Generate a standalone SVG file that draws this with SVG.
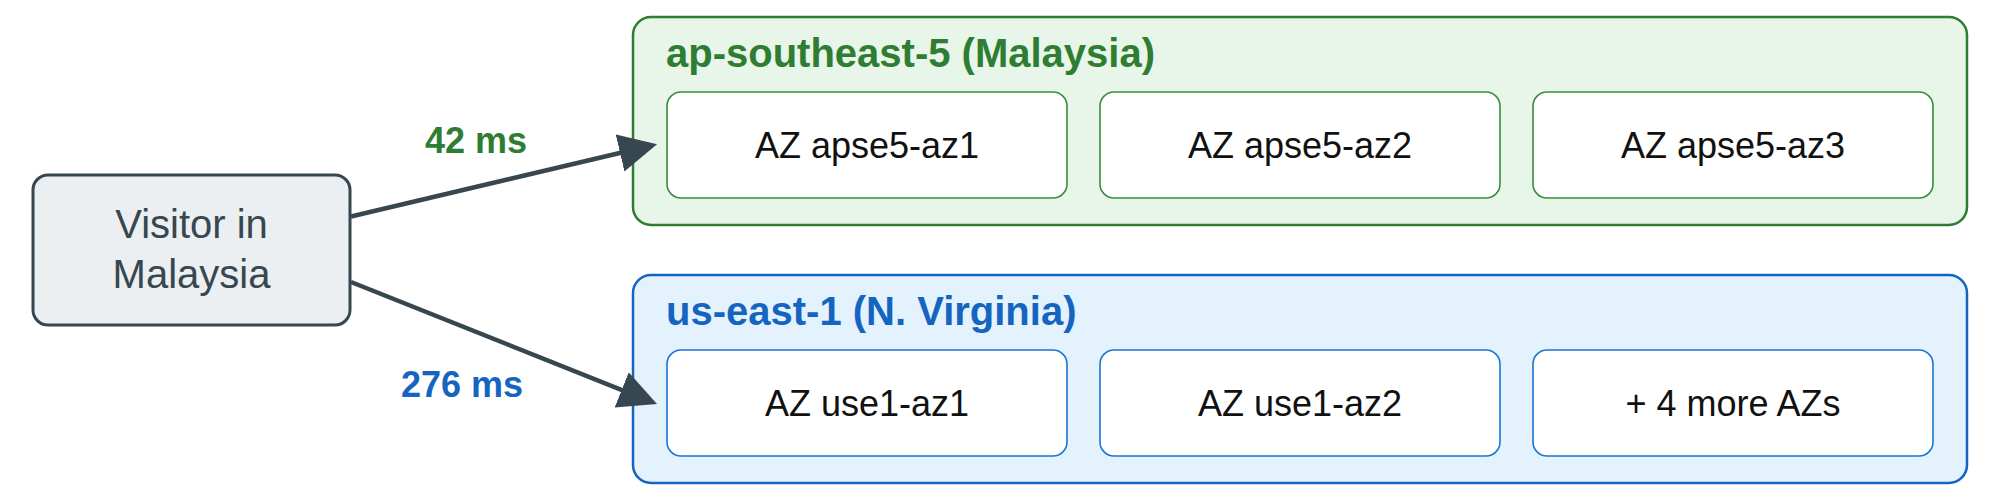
<svg xmlns="http://www.w3.org/2000/svg" width="2000" height="500" viewBox="0 0 2000 500">
  <style>
    .txt { font-family: "Liberation Sans", Arial, Helvetica, sans-serif; }
    .visitor rect { fill: #eceff1; stroke: #37474f; stroke-width: 3; }
    .visitor text { fill: #37474f; font-size: 40px; text-anchor: middle; }
    .region-green > rect { fill: #e8f5e9; stroke: #2e7d32; stroke-width: 2.5; }
    .region-blue > rect { fill: #e3f2fd; stroke: #1565c0; stroke-width: 2.5; }
    .title { font-size: 40px; font-weight: bold; }
    .region-green .title { fill: #2e7d32; }
    .region-blue .title { fill: #1565c0; }
    .az rect { fill: #ffffff; stroke-width: 1.6; }
    .region-green .az rect { stroke: #388e3c; }
    .region-blue .az rect { stroke: #1976d2; }
    .az text { font-size: 36px; fill: #111111; text-anchor: middle; }
    .edge { fill: none; stroke: #37474f; stroke-width: 4.5; }
    .lbl { font-size: 36px; font-weight: bold; text-anchor: middle; }
  </style>
  <defs>
    <marker id="arrow" markerUnits="userSpaceOnUse" markerWidth="40" markerHeight="40" refX="28" refY="19" orient="auto">
      <path d="M0,0 L38,19 L0,38 Z" fill="#37474f"/>
    </marker>
  </defs>

  <g id="visitor" class="visitor txt">
    <rect x="33" y="175" width="317" height="150" rx="15" ry="15"/>
    <text x="191.5" y="238">Visitor in</text>
    <text x="191.5" y="288">Malaysia</text>
  </g>

  <g id="region-apse5" class="region-green txt">
    <rect x="633" y="17" width="1334" height="208" rx="18" ry="18"/>
    <text class="title" x="666" y="67">ap-southeast-5 (Malaysia)</text>
    <g id="az-apse5-az1" class="az">
      <rect x="667" y="92" width="400" height="106" rx="14" ry="14"/>
      <text x="867" y="158">AZ apse5-az1</text>
    </g>
    <g id="az-apse5-az2" class="az">
      <rect x="1100" y="92" width="400" height="106" rx="14" ry="14"/>
      <text x="1300" y="158">AZ apse5-az2</text>
    </g>
    <g id="az-apse5-az3" class="az">
      <rect x="1533" y="92" width="400" height="106" rx="14" ry="14"/>
      <text x="1733" y="158">AZ apse5-az3</text>
    </g>
  </g>

  <g id="region-use1" class="region-blue txt">
    <rect x="633" y="275" width="1334" height="208" rx="18" ry="18"/>
    <text class="title" x="666" y="325">us-east-1 (N. Virginia)</text>
    <g id="az-use1-az1" class="az">
      <rect x="667" y="350" width="400" height="106" rx="14" ry="14"/>
      <text x="867" y="416">AZ use1-az1</text>
    </g>
    <g id="az-use1-az2" class="az">
      <rect x="1100" y="350" width="400" height="106" rx="14" ry="14"/>
      <text x="1300" y="416">AZ use1-az2</text>
    </g>
    <g id="az-more" class="az">
      <rect x="1533" y="350" width="400" height="106" rx="14" ry="14"/>
      <text x="1733" y="416">+ 4 more AZs</text>
    </g>
  </g>

  <g id="connectors" class="txt">
    <path class="edge" d="M351,216.5 L647.3,146.5" marker-end="url(#arrow)"/>
    <path class="edge" d="M351,282 L647.7,400.3" marker-end="url(#arrow)"/>
    <text class="lbl" x="476" y="153" fill="#2e7d32">42 ms</text>
    <text class="lbl" x="462" y="397" fill="#1565c0">276 ms</text>
  </g>
</svg>
